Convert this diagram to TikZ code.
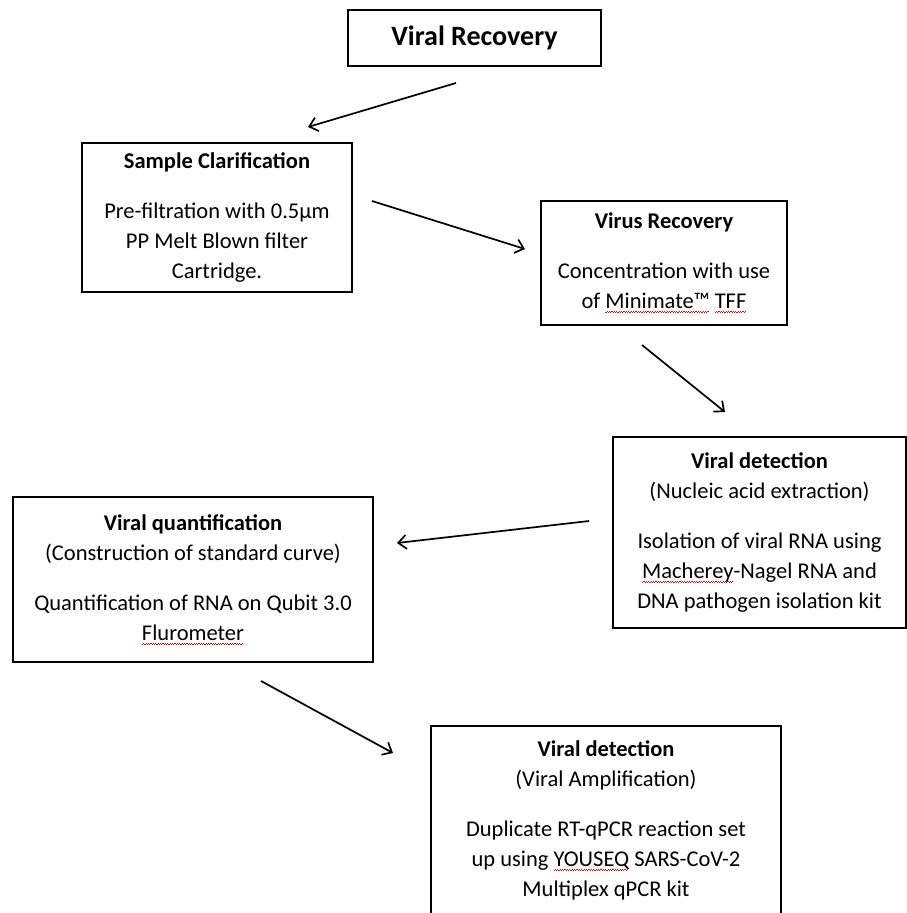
\documentclass[tikz,border=0pt]{standalone}
\usepackage{fontspec}
\setmainfont{Carlito}
\usetikzlibrary{arrows.meta}
\newsavebox\sqbox
\newcommand\redsq[1]{\sbox\sqbox{#1}\rlap{\color{red}\leaders\hbox{\rule[-4.2pt]{1.2pt}{0.8pt}\rule[-3.2pt]{1.2pt}{0.8pt}}\hskip\wd\sqbox}\usebox\sqbox}
\tikzset{
  box/.style={draw, line width=1.8pt, inner sep=0pt, align=center,
    font=\fontsize{22.5}{30}\selectfont},
  flow/.style={line width=1.7pt, -{Straight Barb[length=8pt,width=14pt,line width=1.7pt]}}
}
\begin{document}
\begin{tikzpicture}[x=1pt,y=-1pt]
\useasboundingbox (0,0) rectangle (906,913);
\node[box, minimum width=253, minimum height=56, font=\fontsize{28}{30}\selectfont\bfseries] (title) at (474.5,38) {Viral Recovery};
\node[box, minimum width=270, minimum height=149] (clar) at (217,217.5)
  {\textbf{Sample Clarification}\\[20pt]Pre-filtration with 0.5µm\\PP Melt Blown filter\\Cartridge.};
\node[box, minimum width=246, minimum height=124] (virus) at (664,263)
  {\textbf{Virus Recovery}\\[20pt]Concentration with use\\of \redsq{Minimate™} \redsq{TFF}};
\node[box, minimum width=293, minimum height=191] (nucl) at (759.5,532.5)
  {\textbf{Viral detection}\\(Nucleic acid extraction)\\[20pt]Isolation of viral RNA using\\\redsq{Macherey}-Nagel RNA and\\DNA pathogen isolation kit};
\node[box, minimum width=360, minimum height=165] (quant) at (193,579.5)
  {\textbf{Viral quantification}\\(Construction of standard curve)\\[20pt]Quantification of RNA on Qubit 3.0\\\redsq{Flurometer}};
\node[box, minimum width=350, minimum height=188] (amp) at (606,820)
  {\textbf{Viral detection}\\(Viral Amplification)\\[20pt]Duplicate RT-qPCR reaction set\\up using \redsq{YOUSEQ} SARS-CoV-2\\Multiplex qPCR kit};
\coordinate (a1s) at (456,83);  \coordinate (a1e) at (308,127);
\coordinate (a2s) at (372,201); \coordinate (a2e) at (525,249);
\coordinate (a3s) at (642,345); \coordinate (a3e) at (725,412);
\coordinate (a4s) at (589,521); \coordinate (a4e) at (397,543);
\coordinate (a5s) at (261,681); \coordinate (a5e) at (393,753);
\draw[flow] (a1s) -- (a1e);
\draw[flow] (a2s) -- (a2e);
\draw[flow] (a3s) -- (a3e);
\draw[flow] (a4s) -- (a4e);
\draw[flow] (a5s) -- (a5e);
\end{tikzpicture}
\end{document}
